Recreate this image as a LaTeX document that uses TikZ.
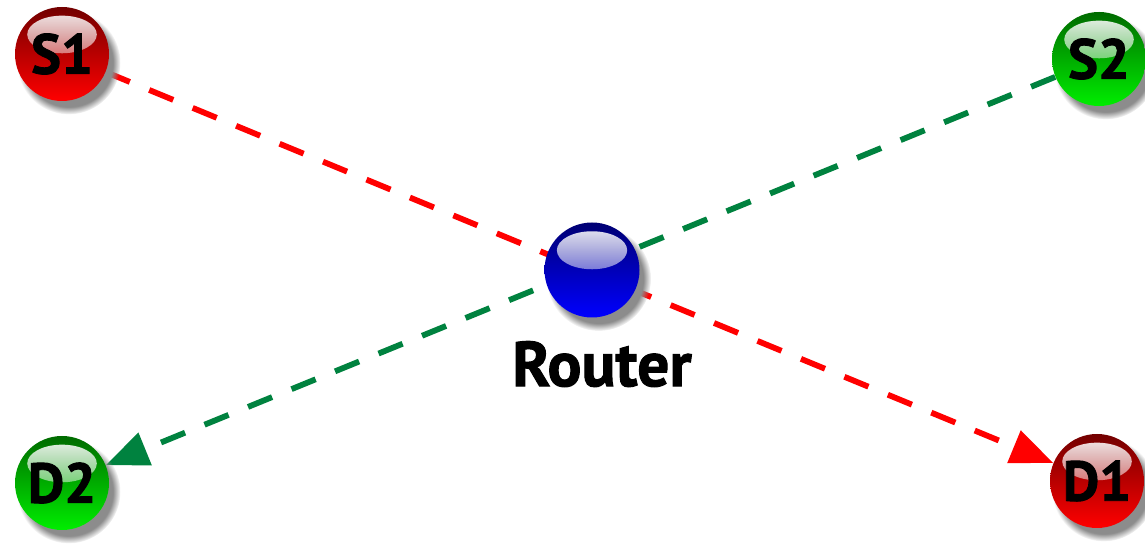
\documentclass[tikz,border=0pt]{standalone}
\usepackage{fontspec}
\setmainfont{PT Sans}[BoldFeatures={FakeBold=1.6}]
\usetikzlibrary{arrows.meta, shadows, positioning, backgrounds, fadings}
\definecolor{ballred}{HTML}{FF0000}
\definecolor{ballgreen}{HTML}{00EE00}
\definecolor{ballblue}{HTML}{0000FF}
\definecolor{flowred}{HTML}{FF0000}
\definecolor{flowgreen}{HTML}{00823F}
\tikzfading[name=glossfade, top color=transparent!5, bottom color=transparent!100]
\tikzset{
  ball/.style 2 args={circle, minimum size=#1, inner sep=0pt, text=black,
    font=\fontsize{32}{32}\selectfont\bfseries,
    top color=#2!45!black, middle color=#2, bottom color=#2,
    circular drop shadow={shadow xshift=3.5pt, shadow yshift=-4.5pt, shadow scale=1.1, fill=black!45},
    path picture={\fill[white, path fading=glossfade]
      ([yshift=-0.55*#1/1.88]path picture bounding box.north) ellipse (0.37*#1 and 0.2*#1);}},
  flow/.style={dashed, dash pattern=on 0.52cm off 0.42cm, line width=3.3pt,
    -{Triangle[length=0.85cm, width=0.68cm]}}
}
\begin{document}
\begin{tikzpicture}
  \useasboundingbox (0,0) rectangle (22.9,10.92);

  % Quellen
  \node[ball={1.88cm}{ballred}] (s1) at (1.24,9.84) {S1};
  \node[ball={1.88cm}{ballgreen}] (s2) at (21.98,9.74) {S2};

  % Router
  \node[ball={1.9cm}{ballblue}] (router) at (11.84,5.52) {};
  \node[below=0.46cm of router, xshift=0.2cm, inner sep=0pt, font=\fontsize{36}{36}\selectfont\bfseries] (routerlabel) {Router};

  % Ziele
  \node[ball={1.88cm}{ballgreen}] (d2) at (1.24,1.26) {D2};
  \node[ball={1.88cm}{ballred}] (d1) at (21.94,1.30) {D1};

  % Verbindungen
  \begin{scope}[on background layer]
    \draw[flow, flowred] (s1) -- (d1);
    \draw[flow, flowgreen] (s2) -- (d2);
  \end{scope}
\end{tikzpicture}
\end{document}
